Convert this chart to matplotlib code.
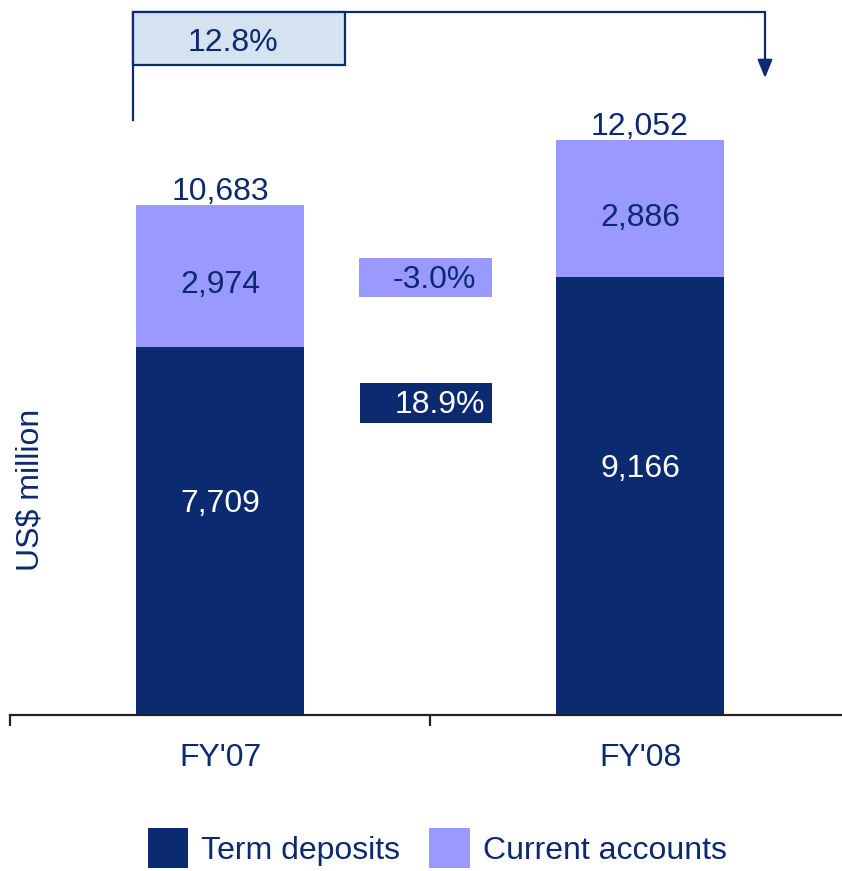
import matplotlib
matplotlib.use("Agg")
import matplotlib.pyplot as plt
from matplotlib.patches import Rectangle
import numpy as np

plt.rcParams['font.family'] = ['Liberation Sans', 'DejaVu Sans']

categories = ["FY'07", "FY'08"]
term_deposits = [7709, 9166]
current_accounts = [2974, 2886]
totals = [10683, 12052]
growth_total = "12.8%"
growth_current = "-3.0%"
growth_term = "18.9%"
series_names = ["Term deposits", "Current accounts"]

NAVY = "#0B2A6F"
LIGHT = "#9999FF"
BOXFILL = "#D5E2F0"
FS = 23

W, H = 842, 871
fig = plt.figure(figsize=(W / 100, H / 100), dpi=100)
ax = fig.add_axes([10 / W, (H - 715) / H, 840 / W, 715 / H])
ymax = 715 / 0.04774
ax.set_xlim(-0.5, 1.5)
ax.set_ylim(0, ymax)

x = np.arange(len(categories))
bw = 0.4
ax.bar(x, term_deposits, width=bw, color=NAVY, label=series_names[0], zorder=2)
ax.bar(x, current_accounts, width=bw, bottom=term_deposits, color=LIGHT,
       label=series_names[1], zorder=2)

for i in range(len(x)):
    ax.annotate(f"{term_deposits[i]:,}", (x[i], term_deposits[i] / 2),
                xytext=(0, 19.5), textcoords="offset points", color="white",
                ha="center", va="center", fontsize=FS)
    ax.annotate(f"{current_accounts[i]:,}", (x[i], term_deposits[i] + current_accounts[i] / 2),
                xytext=(0, -6.5), textcoords="offset points",
                color=NAVY, ha="center", va="center", fontsize=FS)
    ax.annotate(f"{totals[i]:,}", (x[i], totals[i]), xytext=(0, -1.5),
                textcoords="offset points", ha="center", va="bottom",
                color=NAVY, fontsize=FS)

# growth boxes between bars
def px2d(px):
    return (px - 220) / 420

def py2v(py):
    return (715 - py) / 0.04774

ax.add_patch(Rectangle((px2d(359), py2v(297)), px2d(492) - px2d(359),
                       py2v(258) - py2v(297), facecolor=LIGHT, edgecolor="none",
                       clip_on=False))
ax.text(px2d(434), py2v(280), growth_current, ha="center", va="center",
        color=NAVY, fontsize=FS)
ax.add_patch(Rectangle((px2d(360), py2v(423)), px2d(492) - px2d(360),
                       py2v(383) - py2v(423), facecolor=NAVY, edgecolor="none",
                       clip_on=False))
ax.text(px2d(440), py2v(405), growth_term, ha="center", va="center",
        color="white", fontsize=FS)

# bracket at top
lx, rx = px2d(133), px2d(765)
ytop = py2v(12)
ax.plot([lx, lx, rx, rx], [py2v(120), ytop, ytop, py2v(64)], color=NAVY, lw=1.6,
        clip_on=False, solid_joinstyle="miter")
ax.annotate("", xy=(rx, py2v(78)), xytext=(rx, py2v(62)),
            arrowprops=dict(arrowstyle="-|>,head_width=0.45,head_length=1.1",
                            color=NAVY, lw=1.6, shrinkA=0, shrinkB=0))
ax.add_patch(Rectangle((lx, py2v(65)), px2d(345) - lx, ytop - py2v(65),
                       facecolor=BOXFILL, edgecolor=NAVY, lw=1.6, clip_on=False,
                       zorder=3))
ax.text(px2d(233), py2v(43), growth_total, ha="center", va="center", color=NAVY,
        fontsize=FS, zorder=4)

# axes styling
for s in ["top", "right", "left"]:
    ax.spines[s].set_visible(False)
ax.spines["bottom"].set_color("#222222")
ax.spines["bottom"].set_linewidth(1.6)
ax.set_yticks([])
ax.set_xticks(x)
ax.set_xticklabels(categories, color=NAVY, fontsize=FS)
ax.tick_params(axis="x", which="major", length=0, pad=20)
ax.set_xticks([-0.5, 0.5, 1.5], minor=True)
ax.tick_params(axis="x", which="minor", length=8, width=1.6, color="#222222",
               direction="out")

fig.text(31 / W, 1 - 490 / H, "US$ million", rotation=90, ha="center", va="center",
         color=NAVY, fontsize=FS)

leg = fig.legend(loc="center", bbox_to_anchor=(437 / W, 1 - 848 / H), ncol=2,
                 frameon=False, fontsize=FS, handlelength=1.28, handleheight=1.55,
                 handletextpad=0.4, columnspacing=0.9, borderaxespad=0, borderpad=0)
for t in leg.get_texts():
    t.set_color(NAVY)

fig.savefig("out.png", dpi=100)
